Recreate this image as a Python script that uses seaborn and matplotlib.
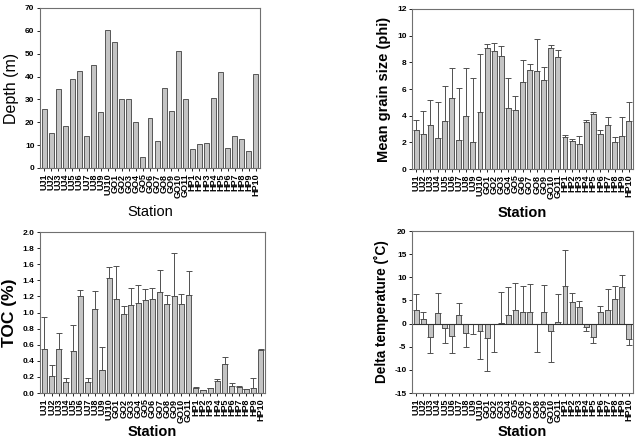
import numpy as np
import pandas as pd
import matplotlib
matplotlib.use("Agg")
import matplotlib.pyplot as plt
import seaborn as sns

# stations
stations = ["UJ%d" % i for i in range(1, 11)] + ["GO%d" % i for i in range(1, 12)] + ["HP%d" % i for i in range(1, 11)]

depth = [26, 15.5, 34.5, 18.3, 39, 42.5, 14, 45, 24.5, 60.5,
         55, 30, 30, 20, 5, 22, 12, 35, 25, 51, 30,
         8.5, 10.3, 10.8, 30.8, 41.8, 8.7, 14.2, 12.5, 7.5, 41]

grain = [2.9, 2.6, 3.3, 2.3, 3.6, 5.3, 2.15, 3.95, 2.05, 4.3,
         9.1, 8.85, 8.5, 4.6, 4.4, 6.5, 7.45, 7.35, 6.7, 9.05, 8.4,
         2.4, 2.1, 1.85, 3.5, 4.15, 2.6, 3.3, 2.0, 2.45, 3.6]
grain_sd = [0.8, 1.75, 1.9, 2.7, 2.6, 2.3, 3.95, 3.65, 4.75, 4.35,
            0.25, 0.6, 0.7, 2.2, 1.05, 1.65, 0.4, 2.4, 0.95, 0.25, 0.55,
            0.15, 0.15, 0.65, 0.15, 0.15, 0.35, 0.6, 0.4, 1.45, 1.4]

toc = [0.55, 0.21, 0.55, 0.14, 0.52, 1.2, 0.14, 1.04, 0.28, 1.43,
       1.17, 0.98, 1.09, 1.12, 1.16, 1.17, 1.25, 1.1, 1.21, 1.1, 1.22,
       0.06, 0.04, 0.06, 0.15, 0.36, 0.09, 0.08, 0.05, 0.06, 0.54]
toc_sd = [0.4, 0.14, 0.19, 0.05, 0.33, 0.08, 0.05, 0.23, 0.29, 0.14,
          0.41, 0.1, 0.22, 0.22, 0.13, 0.14, 0.28, 0.12, 0.53, 0.13, 0.29,
          0.01, 0.0, 0.0, 0.03, 0.09, 0.03, 0.01, 0.0, 0.13, 0.01]

dtemp = [3, 1, -2.9, 2.3, -1, -2.7, 1.9, -2, -0.2, -1.6,
         -3.2, -0.1, 0.2, 1.9, 2.9, 2.4, 2.6, -0.2, 2.4, -1.7, 0.4,
         8.2, 4.6, 3.6, -0.7, -2.9, 2.5, 2.9, 5.3, 7.8, -3.3]
dtemp_sd = [3.4, 1.6, 3.4, 4.3, 3.3, 3.6, 2.6, 3.0, 2.1, 6.0,
            7.0, 6.0, 6.7, 6.1, 5.9, 5.8, 6.0, 5.9, 6.0, 6.6, 5.9,
            7.6, 2.0, 1.3, 0.9, 1.3, 1.3, 4.6, 2.9, 2.6, 1.3]

df = pd.DataFrame({"Station": stations, "depth": depth, "grain": grain,
                   "toc": toc, "dtemp": dtemp})

plt.rcParams["font.family"] = ["Liberation Sans", "DejaVu Sans"]
fig = plt.figure(figsize=(6.38, 4.43), dpi=100)

W, H = 638, 443
boxes = [(40, 8, 260, 168), (412, 9, 633, 169), (40, 232, 265, 393), (412, 231, 633, 393)]
axes = [fig.add_axes([l / W, 1 - b / H, (r - l) / W, (b - t) / H]) for l, t, r, b in boxes]

# col, sd, ylabel, ylabel size, ylim, yticks, fmt, bold, xlabel pad
panels = [
    ("depth", None, "Depth (m)", 11.5, (0, 70), np.arange(0, 71, 10), "%d", False, 5),
    ("grain", grain_sd, "Mean grain size (phi)", 10.5, (0, 12), np.arange(0, 13, 2), "%d", True, 5),
    ("toc", toc_sd, "TOC (%)", 12.5, (0, 2.0), np.arange(0, 2.01, 0.2), "%.1f", True, 1.5),
    ("dtemp", dtemp_sd, "Delta temperature (\u02daC)", 9.8, (-15, 20), np.arange(-15, 21, 5), "%d", True, 1.5),
]

for ax, (col, sd, ylab, ysz, ylim, yt, fmt, bold, xpad) in zip(axes, panels):
    sns.barplot(data=df, x="Station", y=col, ax=ax, color="#c4c4c4",
                edgecolor="#404040", linewidth=0.6, width=0.7, saturation=1)
    x = np.arange(len(stations))
    vals = df[col].values
    if sd is not None:
        sd = np.array(sd)
        up = np.where(vals >= 0, sd, 0)
        lo = np.where(vals < 0, sd, 0)
        ax.errorbar(x, vals, yerr=[lo, up], fmt="none", ecolor="#505050",
                    elinewidth=0.7, capsize=2.2, capthick=0.7)
    if col == "dtemp":
        ax.axhline(0, color="#303030", lw=0.8)
    ax.set_xlim(-0.6, len(stations) - 0.4)
    ax.set_ylim(*ylim)
    ax.set_yticks(yt)
    ax.set_yticklabels([fmt % v for v in yt], fontsize=6, fontweight="bold")
    ax.set_xticks(x)
    ax.set_xticklabels(stations, rotation=90, fontsize=6.5, fontweight="bold")
    w = "bold" if bold else "normal"
    ax.set_ylabel(ylab, fontsize=ysz, fontweight=w, labelpad=4)
    ax.set_xlabel("Station", fontsize=10.5, fontweight=w, labelpad=xpad)
    ax.tick_params(axis="both", length=2.5, width=0.6, pad=1.5)
    for s in ax.spines.values():
        s.set_color("#707070")
        s.set_linewidth(0.8)

fig.savefig("out.png", dpi=100)
